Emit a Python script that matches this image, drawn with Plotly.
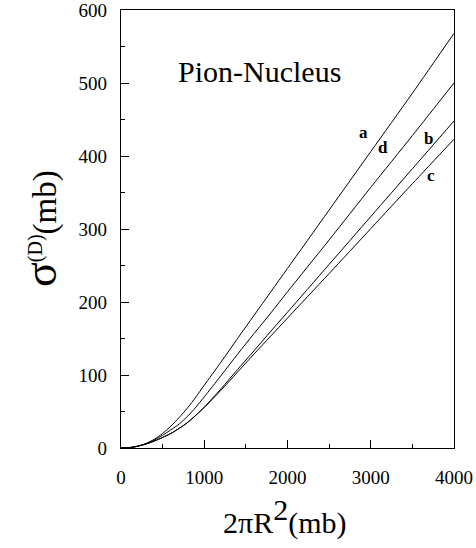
import plotly.graph_objects as go

# 2*pi*R^2 (mb)
x_vals = [0, 100, 200, 300, 400, 500, 600, 700, 800, 900, 1000, 1200, 1400,
          1600, 1800, 2000, 2500, 3000, 3500, 4000]
# sigma^(D) (mb) for curves a, b, c, d
curve_a = [0, 0.5, 2.5, 6, 12, 20, 30, 42, 55, 70, 86, 117.5, 150, 182, 214,
           246, 326, 406, 486, 568]
curve_d = [0, 0.5, 2.5, 6, 11, 17.5, 25, 33, 43.5, 56, 70, 99, 128.5, 157,
           185, 214, 285, 357, 428, 500]
curve_b = [0, 0.5, 2.5, 5.5, 9.5, 14.5, 20, 27, 35, 45, 56, 81, 107.5, 133.5,
           160, 186, 251.5, 317, 382.5, 448]
curve_c = [0, 0.5, 2.5, 5.5, 9.5, 14.5, 20, 27, 35, 45, 55.5, 79, 104, 129,
           153.5, 178, 239, 300.5, 362, 423]

curve_names = ["a", "b", "c", "d"]
label_x = [2916, 3688, 3728, 3152]
label_y = [432, 424, 373, 412]

x_ticks = [0, 1000, 2000, 3000, 4000]
y_ticks = [0, 100, 200, 300, 400, 500, 600]

FONT = "Liberation Serif, Times New Roman, serif"

fig = go.Figure()
for name, ys in zip(curve_names, [curve_a, curve_b, curve_c, curve_d]):
    fig.add_trace(go.Scatter(x=x_vals, y=ys, mode="lines", name=name,
                             line=dict(color="black", width=1, shape="spline",
                                       smoothing=0.8),
                             showlegend=False, hoverinfo="skip"))

for name, lx, ly in zip(curve_names, label_x, label_y):
    fig.add_annotation(x=lx, y=ly, text="<b>%s</b>" % name, showarrow=False,
                       font=dict(family=FONT, size=17, color="black"))

fig.add_annotation(x=1668, y=516, text="Pion-Nucleus", showarrow=False,
                   font=dict(family=FONT, size=30, color="black"))

# y-axis title
fig.add_annotation(xref="paper", yref="paper", x=0, y=0.5, xshift=-81,
                   xanchor="center", yanchor="middle",
                   text="<span style='font-size:46px'>σ</span>"
                        "<sup><span style='font-size:20px'>(D)</span></sup>(mb)",
                   textangle=-90, showarrow=False,
                   font=dict(family=FONT, size=33, color="black"))

# x-axis title
fig.add_annotation(xref="paper", yref="paper", x=0.49, y=-0.157,
                   text="2πR<sup><span style='font-size:30px'>2</span></sup>(mb)",
                   showarrow=False, yanchor="middle",
                   font=dict(family=FONT, size=30, color="black"))

axis_common = dict(showgrid=False, zeroline=False, showline=True,
                   linecolor="black", linewidth=1.3, mirror=True,
                   ticks="inside", ticklen=8, tickwidth=1.2, tickcolor="black",
                   automargin=False, ticklabeloverflow="allow",
                   tickfont=dict(family=FONT, size=19, color="black"))

fig.update_xaxes(range=[0, 4000], tickvals=x_ticks,
                 ticktext=[str(v) for v in x_ticks],
                 minor=dict(ticks="inside", ticklen=4, dtick=500, tick0=0,
                            tickcolor="black", tickwidth=1),
                 ticklabelstandoff=12, **axis_common)
fig.update_yaxes(range=[0, 600], tickvals=y_ticks,
                 ticktext=[str(v) for v in y_ticks],
                 minor=dict(ticks="inside", ticklen=4, dtick=50, tick0=0,
                            tickcolor="black", tickwidth=1),
                 ticklabelstandoff=9, **axis_common)

fig.update_layout(width=476, height=548,
                  margin=dict(l=121, r=22, t=10, b=100, autoexpand=False),
                  paper_bgcolor="white", plot_bgcolor="white",
                  font=dict(family=FONT, color="black"))

fig.write_html("out.html", config={"displayModeBar": False},
               post_script="document.body.style.margin='0';"
                           "document.body.style.overflow='hidden';")
